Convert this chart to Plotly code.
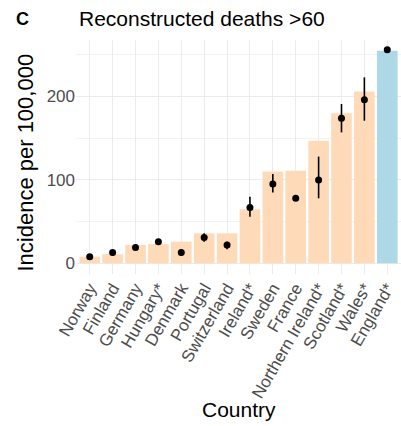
import plotly.graph_objects as go

countries = ["Norway", "Finland", "Germany", "Hungary*", "Denmark", "Portugal",
             "Switzerland", "Ireland*", "Sweden", "France", "Northern Ireland*",
             "Scotland*", "Wales*", "England*"]
bar_values = [8, 11, 22, 23, 26, 36, 36, 65, 110, 111, 147, 180, 206, 255]
point_values = [8, 13, 19, 26, 13, 31, 22, 67, 95, 78, 100, 174, 196, 256]
lower_values = [6, 9, 17, 23, 9, 26, 17, 56, 85, 76, 78, 157, 171, 255]
upper_values = [10, 16, 21, 29, 17, 36, 26, 80, 107, 82, 128, 191, 223, 257]
highlight = ["England*"]
y_ticks = [0, 100, 200]

bar_colors = ["#ADD8E6" if c in highlight else "#FFDAB9" for c in countries]

fig = go.Figure()
fig.add_trace(go.Bar(
    x=countries, y=bar_values, marker=dict(color=bar_colors, line=dict(width=0)),
    width=0.9, showlegend=False, hoverinfo="x+y"))
fig.add_trace(go.Scatter(
    x=countries, y=point_values, mode="markers",
    marker=dict(color="black", size=7),
    error_y=dict(type="data", symmetric=False,
                 array=[u - p for u, p in zip(upper_values, point_values)],
                 arrayminus=[p - l for p, l in zip(point_values, lower_values)],
                 color="black", thickness=1.6, width=0),
    showlegend=False))

font_family = "Liberation Sans, Arial, sans-serif"
fig.update_layout(
    width=401, height=426,
    margin=dict(l=76, r=0, t=40, b=152),
    paper_bgcolor="white", plot_bgcolor="white",
    font=dict(family=font_family, color="black"),
    bargap=0.1,
    xaxis=dict(
        range=[-0.6, len(countries) - 0.4],
        tickangle=-60, tickfont=dict(size=17, color="#4D4D4D"),
        showgrid=True, gridcolor="#EBEBEB", gridwidth=1,
        zeroline=False, showline=False, ticks="", ticklen=2),
    yaxis=dict(
        range=[-12.75, 267.75], tickvals=y_ticks,
        tickfont=dict(size=17, color="#4D4D4D"),
        showgrid=True, gridcolor="#EBEBEB", gridwidth=1,
        minor=dict(tickvals=[50, 150, 250], showgrid=True, gridcolor="#F2F2F2", gridwidth=0.6),
        zeroline=False, showline=False, ticks="", ticklen=4),
    annotations=[
        dict(text="<b>C</b>", x=-0.165, y=1.09, xref="paper", yref="paper",
             xanchor="center", yanchor="middle", showarrow=False,
             font=dict(size=18, color="black")),
        dict(text="Reconstructed deaths >60", x=0.003, y=1.09, xref="paper", yref="paper",
             xanchor="left", yanchor="middle", showarrow=False,
             font=dict(size=21, color="black")),
        dict(text="Incidence per 100,000", x=-0.154, y=0.476, xref="paper", yref="paper",
             xanchor="center", yanchor="middle", showarrow=False, textangle=-90,
             font=dict(size=22, color="black")),
        dict(text="Country", x=0.5, y=-0.581, xref="paper", yref="paper",
             xanchor="center", yanchor="middle", showarrow=False,
             font=dict(size=21, color="black")),
    ],
)

fig.write_html("out.html", config={"displayModeBar": False},
               post_script="document.body.style.margin='0';document.body.style.overflow='hidden';")
